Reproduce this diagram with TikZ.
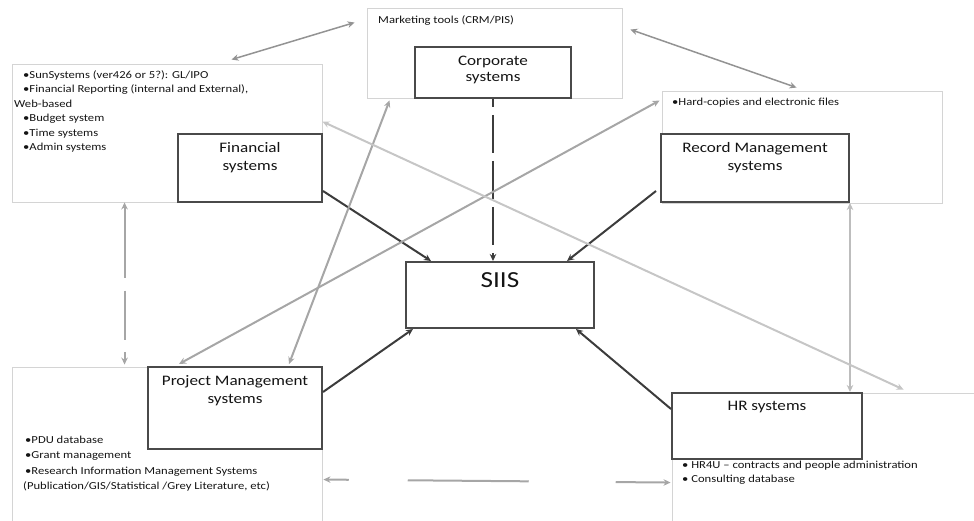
\documentclass[tikz,border=0pt]{standalone}
\usepackage{fontspec}
\setmainfont[FakeStretch=1.18]{Carlito}
\usetikzlibrary{arrows.meta,calc}
\definecolor{outerc}{HTML}{D4D4D4}
\definecolor{boxc}{HTML}{4A4A4A}
\definecolor{darkc}{HTML}{3C3C3C}
\definecolor{grayc}{HTML}{A6A6A6}
\definecolor{lightc}{HTML}{C6C6C6}
\definecolor{vertc}{HTML}{BDBDBD}
\definecolor{txtc}{HTML}{141414}
\begin{document}
\begin{tikzpicture}[x=1pt,y=-1pt,
  outerbox/.style={draw=outerc,line width=0.9pt,inner sep=0,rectangle},
  innerbox/.style={draw=boxc,line width=2pt,fill=white,inner sep=0,rectangle},
  lbl/.style={anchor=north,inner sep=0,align=center,text=txtc,font=\fontsize{14.5}{18}\selectfont},
  lst/.style={anchor=north west,inner sep=0,align=left,text=txtc,font=\fontsize{10.7}{14.5}\selectfont},
  feed/.style={draw=darkc,line width=2pt,-{Stealth[length=7pt,width=6.5pt]}},
  link/.style={draw=#1,line width=2pt,{Stealth[length=7pt,width=6.5pt]}-{Stealth[length=7pt,width=6.5pt]}},
  link/.default=grayc
]
\useasboundingbox (0,0) rectangle (974,521);
\clip (0,0) rectangle (974,521);

% outer (light) boxes
\node[outerbox,minimum width=310pt,minimum height=138pt] (finOut) at (167,133) {};
\node[outerbox,minimum width=255pt,minimum height=90pt] (corpOut) at (494.5,53) {};
\node[outerbox,minimum width=280pt,minimum height=112pt] (recOut) at (802,147) {};
\node[outerbox,minimum width=310pt,minimum height=170pt] (projOut) at (167,452) {};
\node[outerbox,minimum width=320pt,minimum height=150pt] (hrOut) at (832,468) {};

% inner (dark) boxes
\node[innerbox,minimum width=144pt,minimum height=68pt] (fin) at (250,168) {};
\node[innerbox,minimum width=156pt,minimum height=51pt] (corp) at (493,72.5) {};
\node[innerbox,minimum width=188pt,minimum height=68pt] (rec) at (755,168) {};
\node[innerbox,minimum width=174pt,minimum height=82pt] (proj) at (235,408) {};
\node[innerbox,minimum width=190pt,minimum height=66pt] (hr) at (767,426) {};
\node[innerbox,minimum width=188pt,minimum height=66pt] (siis) at (500,295) {};

% box titles
\node[lbl] (finT) at ([yshift=-9.5pt]fin.north) {Financial\\systems};
\node[lbl,font=\fontsize{14.5}{16.5}\selectfont] (corpT) at ([yshift=-9.5pt]corp.north) {Corporate\\systems};
\node[lbl] (recT) at ([yshift=-9.5pt]rec.north) {Record Management\\systems};
\node[lbl] (projT) at ([yshift=-9.5pt]proj.north) {Project Management\\systems};
\node[lbl] (hrT) at ([yshift=-8.7pt]hr.north) {HR systems};
\node[lbl,font=\fontsize{23}{26}\selectfont] (siisT) at ([yshift=-11.5pt]siis.north) {SIIS};

% lists
\node[lst] (finL) at (14,70) {\hspace*{9pt}•SunSystems (ver426 or 5?): GL/IPO\\
\hspace*{9pt}•Financial Reporting (internal and External),\\
Web-based\\
\hspace*{9pt}•Budget system\\
\hspace*{9pt}•Time systems\\
\hspace*{9pt}•Admin systems};
\node[lst] (corpL) at (378,15) {Marketing tools (CRM/PIS)};
\node[lst] (recL) at (672,98) {•Hard-copies and electronic files};
\node[lst,font=\fontsize{10.7}{15.5}\selectfont] (projL) at (23,435.5) {\hspace*{2pt}•PDU database\\
\hspace*{2pt}•Grant management\\
\hspace*{2pt}•Research Information Management Systems\\
(Publication/GIS/Statistical /Grey Literature, etc)};
\node[lst,font=\fontsize{10.7}{14}\selectfont] (hrL) at (682,461) {• HR4U – contracts and people administration\\
• Consulting database};

% dark feeds into SIIS
\draw[feed] ([yshift=12pt]fin.south east) -- ([xshift=26pt]siis.north west);
\draw[feed,dash pattern=on 38pt off 8pt,dash phase=30pt] (corp.south) -- (corp.south |- siis.north);
\draw[feed] ([xshift=-4pt,yshift=12pt]rec.south west) -- ([xshift=-28pt]siis.north east);
\draw[feed] ([yshift=-26pt]proj.north east) -- ([xshift=8pt]siis.south west);
\draw[feed] ([yshift=-17pt]hr.north west) -- ([xshift=-19pt]siis.south east);

% grey two-way links
\draw[link=gray!85,line width=1.5pt] ([xshift=220pt,yshift=4pt]finOut.north west) -- ([xshift=-12pt,yshift=-15pt]corpOut.north west);
\draw[link=gray!85,line width=1.5pt] ([xshift=8pt,yshift=-22pt]corpOut.north east) -- ([xshift=135pt,yshift=3pt]recOut.north west);
\draw[link,dash pattern=on 71pt off 13pt on 49pt off 12pt on 40pt] ([xshift=113pt]finOut.south west) -- ([xshift=113pt,yshift=2pt]projOut.north west);
\draw[link=vertc,line width=2.5pt] (rec.south east) -- (rec.south east |- hr.north);
\draw[link] ([xshift=23pt,yshift=-2pt]corpOut.south west) -- ([xshift=142pt,yshift=2pt]proj.north west);
\draw[link] ([xshift=-2pt,yshift=-10pt]recOut.north west) -- ([xshift=32pt,yshift=2pt]proj.north west);
\draw[link=lightc] ([yshift=-58pt]finOut.north east) -- ([xshift=232pt,yshift=3pt]hrOut.north west);
\draw[link,dash pattern=on 21pt off 59pt on 121pt off 87pt on 70pt] ([xshift=1pt,yshift=-113pt]projOut.north east) -- ([xshift=-1pt,yshift=-90pt]hrOut.north west);
\end{tikzpicture}
\end{document}
